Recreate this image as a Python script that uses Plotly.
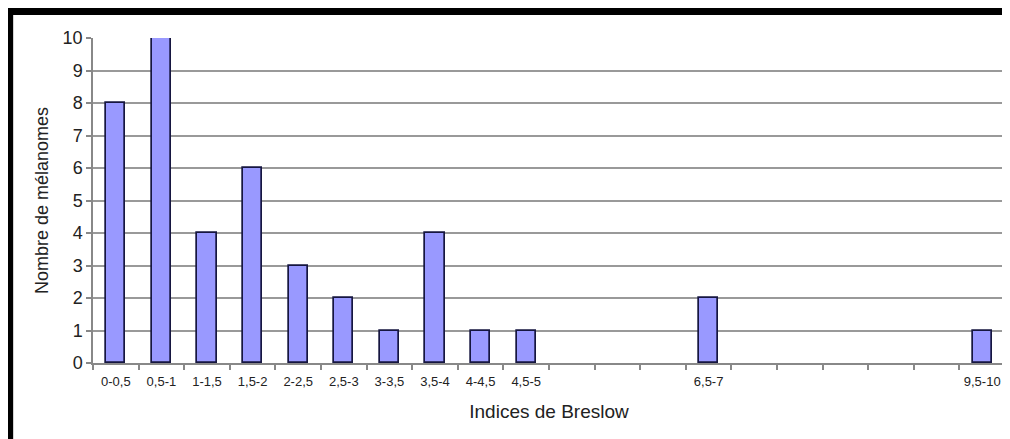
import plotly.graph_objects as go

# Breslow index bins (mm) and melanoma counts
categories = ["0-0,5", "0,5-1", "1-1,5", "1,5-2", "2-2,5", "2,5-3", "3-3,5",
              "3,5-4", "4-4,5", "4,5-5", "5-5,5", "5,5-6", "6-6,5", "6,5-7",
              "7-7,5", "7,5-8", "8-8,5", "8,5-9", "9-9,5", "9,5-10"]
counts = [8, 10, 4, 6, 3, 2, 1, 4, 1, 1, 0, 0, 0, 2, 0, 0, 0, 0, 0, 1]
y_ticks = list(range(0, 11))

positions = list(range(len(categories)))
# empty bins carry no label and no bar in the original chart
tick_text = [c if n > 0 else "" for c, n in zip(categories, counts)]
bar_values = [n if n > 0 else None for n in counts]

# the page body adds an 8px margin, so the figure is shifted by OFF
OFF = 8
W, H = 1010 - OFF, 439 - OFF
L, R, T, B = 93 - OFF, 3, 38 - OFF, 439 - 363
pw, ph = W - L - R, H - T - B


def px_x(x):
    return (x - OFF - L) / pw


def px_y(y):
    return (H - B - (y - OFF)) / ph


fig = go.Figure()

fig.add_trace(go.Bar(x=positions, y=bar_values, width=0.42,
                     marker=dict(color="#9999ff",
                                 line=dict(color="#161640", width=1.7))))

fig.update_layout(
    width=W, height=H,
    margin=dict(l=L, r=R, t=T, b=B),
    paper_bgcolor="white",
    plot_bgcolor="white",
    showlegend=False,
    bargap=0,
    font=dict(family="Liberation Sans, Arial, sans-serif", color="#222"),
    xaxis=dict(
        range=[-0.5, len(categories) - 0.5],
        tickmode="array", tickvals=positions, ticktext=tick_text,
        ticks="outside", ticklen=6, tickcolor="rgba(0,0,0,0)",
        tickfont=dict(size=13),
        minor=dict(tickmode="linear", tick0=-0.5, dtick=1, ticks="outside",
                   ticklen=5, tickcolor="#888", tickwidth=1.5),
        showline=True, linecolor="#888", linewidth=1.5,
        showgrid=False, zeroline=False,
        title=dict(text="Indices de Breslow", font=dict(size=19), standoff=16),
    ),
    yaxis=dict(
        range=[0, 10],
        tickmode="array", tickvals=y_ticks,
        ticks="outside", ticklen=5, tickcolor="#888", tickwidth=1.5,
        tickfont=dict(size=18),
        showline=True, linecolor="#888", linewidth=1.5, mirror=True,
        showgrid=True, gridcolor="#999", gridwidth=1.5,
        zeroline=False,
        title=dict(text="Nombre de mélanomes", font=dict(size=18), standoff=9),
    ),
    shapes=[
        dict(type="rect", xref="paper", yref="paper",
             x0=px_x(7), x1=px_x(1015), y0=px_y(15), y1=px_y(8),
             fillcolor="black", line=dict(width=0), layer="above"),
        dict(type="rect", xref="paper", yref="paper",
             x0=px_x(7), x1=px_x(13), y0=px_y(445), y1=px_y(8),
             fillcolor="black", line=dict(width=0), layer="above"),
    ],
)

fig.write_html("out.html")
